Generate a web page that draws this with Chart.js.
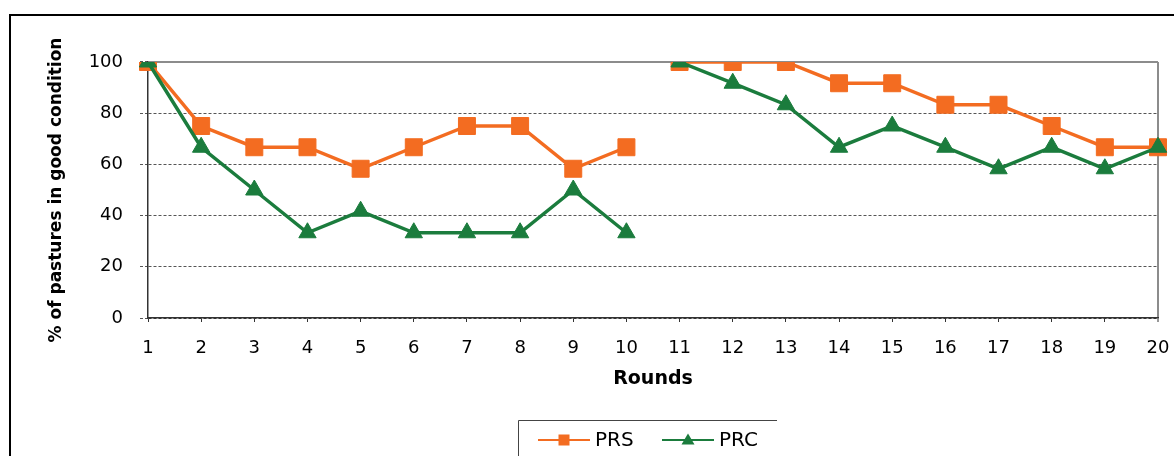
<!DOCTYPE html>
<html>
<head>
<meta charset="utf-8">
<script src="https://cdn.jsdelivr.net/npm/chart.js@4/dist/chart.umd.min.js"></script>
<style>
  html, body { margin: 0; padding: 0; background: #fff; }
  #wrap { width: 1174px; height: 456px; }
</style>
</head>
<body>
<div id="wrap"><canvas id="c" width="1174" height="456"></canvas></div>
<script>
// Rounds 1–20; the two sessions (1–10 and 11–20) are drawn as separate runs.
const rounds = ['1','2','3','4','5','6','7','8','9','10','11','12','13','14','15','16','17','18','19','20'];
const prs = [100, 75, 66.7, 66.7, 58.3, 66.7, 75, 75, 58.3, 66.7, 100, 100, 100, 91.7, 91.7, 83.3, 83.3, 75, 66.7, 66.7];
const prc = [100, 66.7, 50, 33.3, 41.7, 33.3, 33.3, 33.3, 50, 33.3, 100, 91.7, 83.3, 66.7, 75, 66.7, 58.3, 66.7, 58.3, 66.7];
const yTicks = [0, 20, 40, 60, 80, 100];

const ORANGE = '#F36C21';
const GREEN = '#1B7C3D';
const FONT = '"DejaVu Sans", "Liberation Sans", Arial, sans-serif';
const sessionBreak = 9; // no line between round 10 and round 11

// White page with the black frame on its top and left edges
const framePlugin = {
  id: 'frame',
  beforeDraw(chart) {
    const ctx = chart.ctx;
    ctx.save();
    ctx.fillStyle = '#fff';
    ctx.fillRect(0, 0, chart.width, chart.height);
    ctx.strokeStyle = '#000';
    ctx.lineWidth = 2;
    ctx.beginPath();
    ctx.moveTo(chart.width, 15);
    ctx.lineTo(10, 15);
    ctx.lineTo(10, chart.height);
    ctx.stroke();
    ctx.restore();
  }
};

// Boxed legend with a line + marker sample for each series
const legendBoxPlugin = {
  id: 'legendBox',
  afterDraw(chart) {
    const ctx = chart.ctx;
    ctx.save();
    ctx.strokeStyle = '#444';
    ctx.lineWidth = 1;
    ctx.beginPath();
    ctx.moveTo(777, 420.5);
    ctx.lineTo(518.5, 420.5);
    ctx.lineTo(518.5, chart.height);
    ctx.stroke();

    const y = 440;
    const starts = [538, 662];
    chart.data.datasets.forEach((ds, i) => {
      const x0 = starts[i];
      const x1 = x0 + 52;
      const mx = (x0 + x1) / 2;
      ctx.strokeStyle = ds.borderColor;
      ctx.lineWidth = 2;
      ctx.beginPath();
      ctx.moveTo(x0, y);
      ctx.lineTo(x1, y);
      ctx.stroke();
      ctx.fillStyle = ds.backgroundColor;
      if (ds.pointStyle === 'rect') {
        ctx.fillRect(mx - 5.5, y - 5.5, 11, 11);
      } else {
        ctx.beginPath();
        ctx.moveTo(mx, y - 6.5);
        ctx.lineTo(mx + 6.5, y + 4.5);
        ctx.lineTo(mx - 6.5, y + 4.5);
        ctx.closePath();
        ctx.fill();
      }
      ctx.fillStyle = '#000';
      ctx.font = '20px ' + FONT;
      ctx.textBaseline = 'middle';
      ctx.textAlign = 'left';
      ctx.fillText(ds.label, x1 + 5, y + 1);
    });
    ctx.restore();
  }
};

new Chart(document.getElementById('c'), {
  type: 'line',
  data: {
    labels: rounds,
    datasets: [
      {
        label: 'PRS',
        data: prs,
        order: 1,
        borderColor: ORANGE,
        backgroundColor: ORANGE,
        borderWidth: 3.5,
        pointStyle: 'rect',
        pointRadius: 12,
        pointHoverRadius: 12,
        pointBorderWidth: 1,
        tension: 0,
        segment: { borderColor: c => c.p0DataIndex === sessionBreak ? 'rgba(0,0,0,0)' : undefined }
      },
      {
        label: 'PRC',
        data: prc,
        order: 0,
        borderColor: GREEN,
        backgroundColor: GREEN,
        borderWidth: 3.5,
        pointStyle: 'triangle',
        pointRadius: 10,
        pointHoverRadius: 10,
        pointBorderWidth: 1,
        tension: 0,
        segment: { borderColor: c => c.p0DataIndex === sessionBreak ? 'rgba(0,0,0,0)' : undefined }
      }
    ]
  },
  options: {
    responsive: false,
    animation: false,
    events: [],
    layout: { padding: { left: 0, right: 16, top: 62, bottom: 65.4 } },
    plugins: {
      legend: { display: false },
      tooltip: { enabled: false }
    },
    scales: {
      x: {
        type: 'category',
        offset: false,
        afterFit(scale) {
          scale.height = 72.6;
          scale.paddingLeft = 0;
          scale.paddingRight = 0;
        },
        grid: {
          drawOnChartArea: true,
          color: c => c.index === rounds.length - 1 ? '#8c8c8c' : 'rgba(0,0,0,0)',
          lineWidth: c => c.index === rounds.length - 1 ? 2 : 1,
          drawTicks: true,
          tickLength: 4,
          tickColor: '#333',
          tickWidth: 1
        },
        border: { display: true, color: '#333', width: 1.5 },
        ticks: {
          color: '#000',
          font: { family: FONT, size: 18 },
          padding: 16,
          maxRotation: 0,
          autoSkip: false
        },
        title: {
          display: true,
          text: 'Rounds',
          color: '#000',
          font: { family: FONT, size: 19, weight: 'bold' },
          padding: { top: 0, bottom: 0 }
        }
      },
      y: {
        min: 0,
        max: 100,
        afterFit(scale) {
          scale.width = 148;
          scale.paddingTop = 0;
          scale.paddingBottom = 0;
        },
        afterBuildTicks(scale) { scale.ticks = yTicks.map(v => ({ value: v })); },
        grid: {
          color: c => c.tick && c.tick.value === 100 ? '#8c8c8c' : (c.tick && c.tick.value === 0 ? '#333' : '#555'),
          lineWidth: c => c.tick && c.tick.value === 100 ? 2 : 1,
          tickLength: 8,
          tickColor: '#555',
          tickBorderDash: [3, 2]
        },
        border: {
          display: true,
          color: '#333',
          width: 1.5,
          dash: c => (c.tick && c.tick.value === 100) ? [] : [3, 2]
        },
        ticks: {
          color: '#000',
          font: { family: FONT, size: 18 },
          padding: 17
        },
        title: {
          display: true,
          text: '% of pastures in good condition',
          color: '#000',
          font: { family: FONT, size: 17, weight: 'bold' },
          padding: { top: 46, bottom: 0 }
        }
      }
    }
  },
  plugins: [framePlugin, legendBoxPlugin]
});
</script>
</body>
</html>
